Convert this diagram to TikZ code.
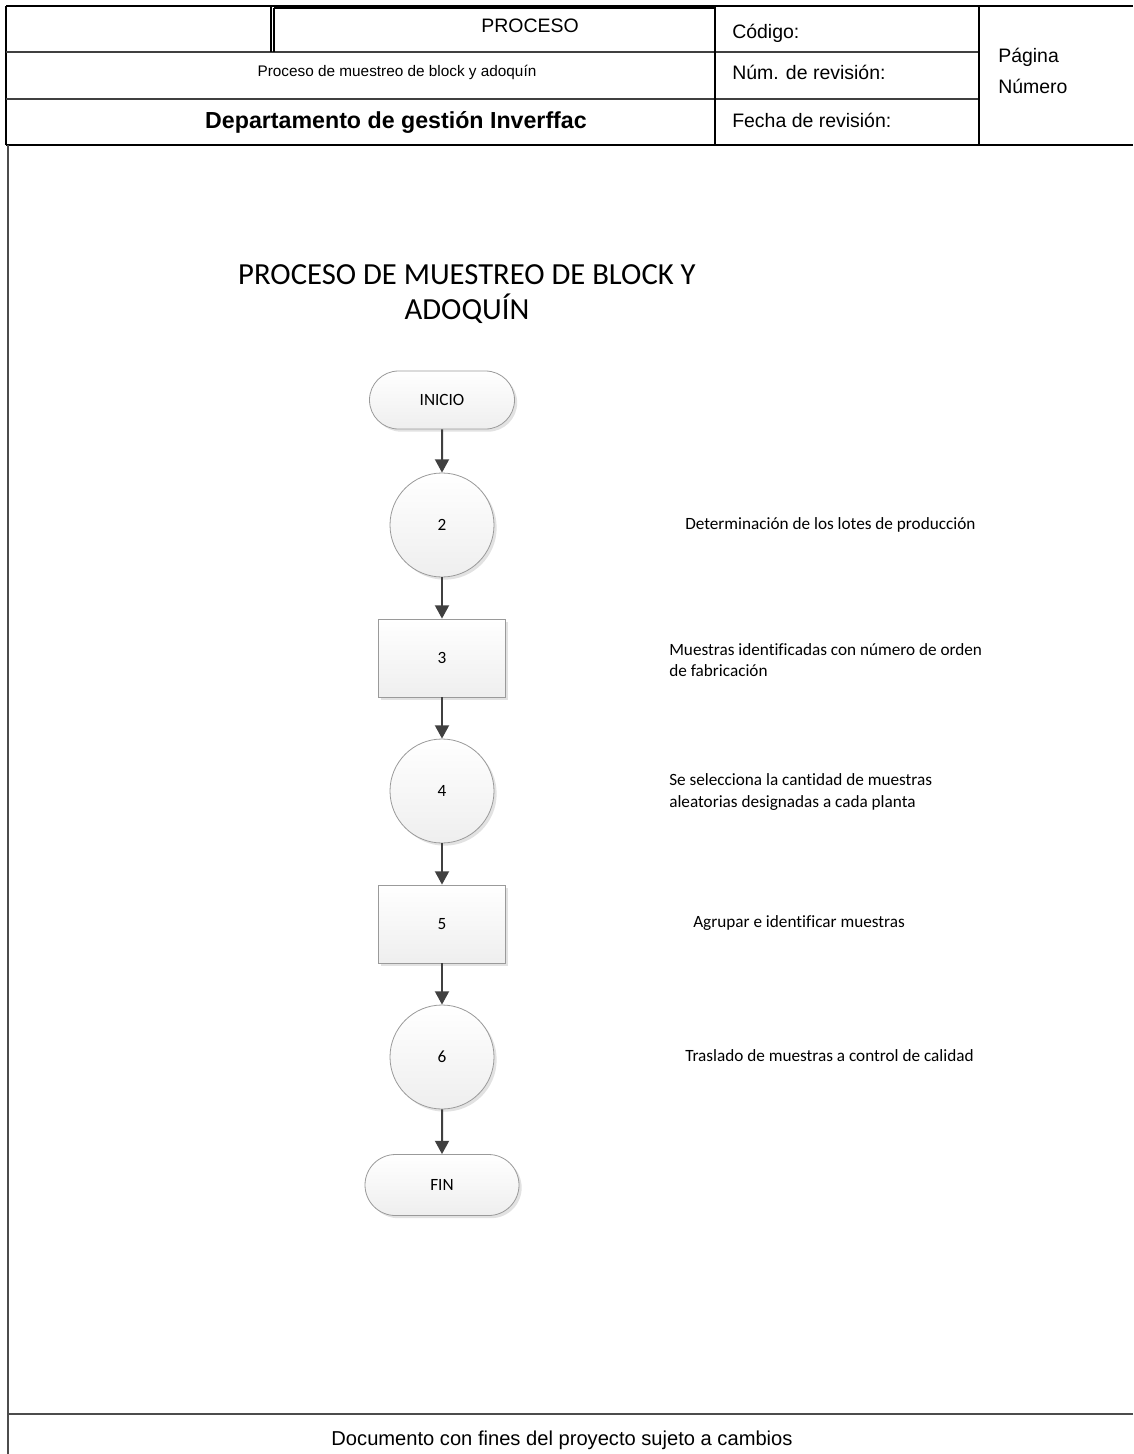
\documentclass[tikz,border=0pt]{standalone}
\usepackage{fontspec}
\setmainfont{Liberation Sans}
\newfontfamily\carl[Ligatures=NoCommon]{Carlito}
\usetikzlibrary{shapes.misc,shadows,arrows.meta}
\definecolor{linegray}{HTML}{404040}
\definecolor{bordergray}{HTML}{9A9A9A}
\begin{document}
\begin{tikzpicture}[x=0.75pt,y=-0.75pt,
  hdr/.style={draw=black,line width=0.8pt},
  hdrthick/.style={draw=black!75,line width=1.3pt},
  frameline/.style={draw=black!70,line width=1.5pt},
  htxt/.style={inner sep=0pt,font=\fontsize{14.6}{17}\selectfont},
  hsmall/.style={inner sep=0pt,font=\fontsize{11.5}{14}\selectfont},
  hbold/.style={inner sep=0pt,font=\bfseries\fontsize{17.4}{20}\selectfont},
  ftxt/.style={inner sep=0pt,font=\fontsize{15.1}{18}\selectfont},
  ttl/.style={inner sep=0pt,align=center,font=\carl\fontsize{23}{26.25}\selectfont},
  side/.style={inner sep=0pt,anchor=west,align=left,font=\carl\fontsize{12.9}{16.1}\selectfont},
  shp/.style={draw=bordergray,line width=0.6pt,top color=white,bottom color=gray!13,
    drop shadow={shadow xshift=2pt,shadow yshift=-2pt,fill=gray!45,opacity=0.5},
    font=\carl\fontsize{12.9}{15}\selectfont,inner sep=0pt},
  term/.style={shp,rounded rectangle,minimum width=108.75pt,minimum height=43.5pt},
  circ/.style={shp,circle,minimum size=78pt},
  procbox/.style={shp,rectangle,minimum width=95.25pt,minimum height=58.5pt},
  arr/.style={draw=linegray,line width=1.5pt,-{Triangle[length=10pt,width=10.5pt]}}
]
\useasboundingbox (0,0) rectangle (1133,1454);
% header grid
\draw[hdr] (6,6) -- (1133,6);
\draw[hdr] (6,6) -- (6,145);
\draw[hdrthick] (6,52) -- (979,52);
\draw[hdrthick] (6,99) -- (979,99);
\draw[hdr] (6,145) -- (1133,145);
\draw[hdr] (271,6) -- (271,52);
\draw[hdr] (274,8) -- (274,52);
\draw[hdr] (274,8) -- (715,8);
\draw[hdr] (715,6) -- (715,145);
\draw[hdr] (979,6) -- (979,145);
% body frame
\draw[frameline] (8,145) -- (8,1454);
\draw[frameline] (8,1414) -- (1133,1414);
% header texts
\node[htxt,anchor=base] (hproc) at (530,32) {PROCESO};
\node[hsmall,anchor=base] (hname) at (397,76) {Proceso de muestreo de block y adoquín};
\node[hbold,anchor=base] (hdept) at (396,128) {Departamento de gestión Inverffac};
\node[htxt,anchor=base west] (hcod) at (732,38) {Código:};
\node[htxt,anchor=base west] (hnum) at (732,79) {Núm. de revisión:};
\node[htxt,anchor=base west] (hfec) at (732,127) {Fecha de revisión:};
\node[htxt,anchor=base west] (hpag) at (998,62) {Página};
\node[htxt,anchor=base west] (hnro) at (998,93) {Número};
\node[ftxt,anchor=base] (foot) at (562,1445) {Documento con fines del proyecto sujeto a cambios};
% title
\node[ttl] (title) at (467,294) {PROCESO DE MUESTREO DE BLOCK Y\\ADOQUÍN};
% flow
\node[term] (ini) at (442,400) {INICIO};
\node[circ] (c2) at (442,525) {2};
\node[procbox] (r3) at (442,658) {3};
\node[circ] (c4) at (442,791) {4};
\node[procbox] (r5) at (442,924) {5};
\node[circ] (c6) at (442,1057) {6};
\node[term,minimum width=115.5pt,minimum height=45.75pt] (fin) at (442,1185) {FIN};
\draw[arr] (ini) -- (c2);
\draw[arr] (c2) -- (r3);
\draw[arr] (r3) -- (c4);
\draw[arr] (c4) -- (r5);
\draw[arr] (r5) -- (c6);
\draw[arr] (c6) -- (fin);
% side labels
\node[side] (l2) at (685,525) {Determinación de los lotes de producción};
\node[side] (l3) at (669,660) {Muestras identificadas con número de orden\\de fabricación};
\node[side] (l4) at (669,792) {Se selecciona la cantidad de muestras\\aleatorias designadas a cada planta};
\node[side] (l5) at (693,923) {Agrupar e identificar muestras};
\node[side] (l6) at (685,1056) {Traslado de muestras a control de calidad};
\end{tikzpicture}
\end{document}
